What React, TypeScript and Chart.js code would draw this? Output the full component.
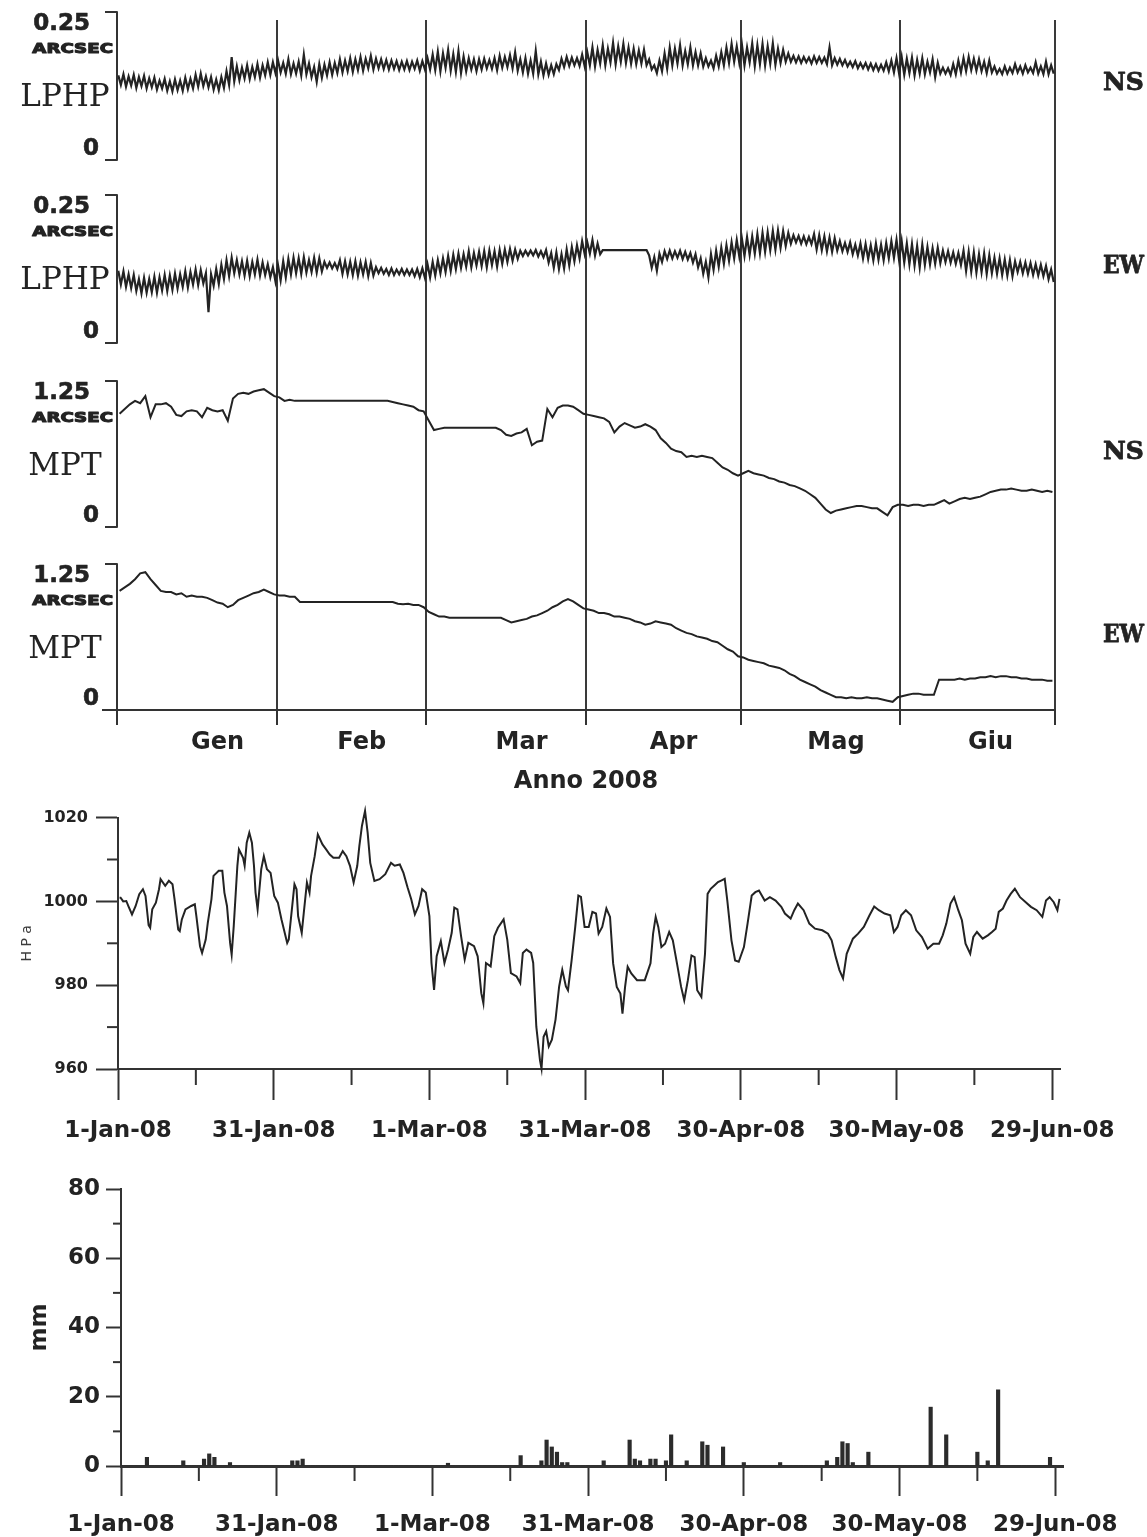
import React, { useEffect, useRef } from 'react';
import { Chart, registerables } from 'chart.js';

Chart.register(...registerables);

const SANS = '"DejaVu Sans", "Liberation Sans", sans-serif';
const SERIF = '"DejaVu Serif", "Liberation Serif", serif';
const INK = '#232323';
const RULE = '#333333';

// ---------------- Top figure: tilt traces (day 0 = 1 Jan 2008) ----------------
const monthStarts = [0, 31, 60, 91, 121, 152, 182];
const monthNames = ['Gen', 'Feb', 'Mar', 'Apr', 'Mag', 'Giu'];
const monthLabelDays = [19.5, 47.5, 78.5, 108, 139.5, 169.5];
const yearTitle = 'Anno 2008';

// LPHP NS, milliarcsec: daily high / low of the diurnal swing
const lphpNsHi = [
  143, 145, 141, 144, 140, 142, 138, 139, 134, 137,
  133, 136, 134, 139, 137, 144, 146, 141, 140, 136,
  140, 150, 174, 158, 156, 160, 157, 162, 160, 165,
  165, 168, 164, 170, 163, 166, 178, 163, 157, 162,
  161, 165, 164, 170, 168, 172, 170, 174, 171, 176,
  171, 170, 169, 168, 167, 166, 167, 166, 168, 167,
  172, 178, 183, 180, 186, 179, 184, 175, 172, 170,
  170, 171, 169, 172, 176, 174, 177, 182, 170, 172,
  168, 184, 166, 163, 160, 162, 171, 174, 173, 172,
  178, 182, 190, 186, 194, 188, 198, 192, 196, 190,
  188, 185, 186, 170, 160, 168, 180, 190, 188, 194,
  184, 190, 182, 180, 172, 168, 176, 182, 190, 196,
  192, 195, 190, 197, 194, 196, 192, 197, 188, 186,
  180, 176, 175, 174, 173, 175, 174, 173, 190, 172,
  171, 169, 166, 167, 164, 164, 163, 162, 161, 165,
  168, 172, 174, 171, 173, 169, 172, 166, 170, 164,
  156, 155, 162, 168, 172, 174, 171, 170, 166, 168,
  158, 154, 158, 156, 162, 158, 160, 156, 165, 158,
  166, 160,
];
const lphpNsLo = [
  127, 124, 126, 122, 125, 121, 123, 119, 121, 117,
  116, 118, 117, 120, 121, 124, 125, 123, 119, 118,
  122, 127, 133, 135, 138, 137, 140, 139, 143, 144,
  147, 148, 146, 145, 146, 143, 145, 140, 132, 139,
  143, 144, 147, 148, 150, 149, 152, 151, 155, 153,
  155, 154, 153, 154, 152, 153, 152, 154, 151, 153,
  153, 152, 150, 156, 151, 149, 147, 150, 153, 150,
  153, 155, 154, 152, 156, 157, 155, 151, 148, 146,
  146, 145, 143, 144, 145, 152, 157, 159, 160, 159,
  158, 160, 158, 163, 160, 165, 162, 166, 164, 163,
  162, 163, 160, 153, 147, 150, 154, 160, 163, 160,
  162, 160, 160, 158, 158, 155, 158, 160, 164, 166,
  164, 160, 165, 159, 162, 160, 163, 161, 164, 166,
  166, 165, 164, 165, 163, 164, 164, 162, 160, 161,
  160, 158, 157, 155, 155, 153, 152, 151, 151, 150,
  148, 146, 144, 147, 143, 146, 145, 148, 140, 146,
  146, 144, 145, 148, 150, 152, 151, 150, 147, 148,
  146, 145, 146, 147, 148, 146, 148, 147, 146, 145,
  145, 146,
];
// LPHP EW, milliarcsec
const lphpEwHi = [
  122, 121, 116, 115, 108, 110, 108, 112, 111, 115,
  114, 117, 116, 121, 120, 124, 123, 118, 116, 125,
  132, 140, 144, 140, 138, 139, 137, 141, 136, 133,
  128, 131, 138, 142, 144, 143, 145, 140, 144, 143,
  137, 136, 135, 140, 138, 137, 138, 136, 137, 135,
  128, 127, 125, 126, 124, 125, 124, 124, 125, 126,
  133, 137, 140, 143, 147, 149, 151, 150, 155, 152,
  154, 155, 156, 155, 157, 158, 159, 158, 156, 156,
  156, 157, 155, 157, 152, 153, 150, 158, 162, 165,
  172, 170, 174, 168, 157, 157, 157, 157, 157, 157,
  157, 157, 157, 148, 145, 151, 155, 156, 155, 156,
  154, 152, 150, 143, 137, 150, 156, 161, 165, 170,
  174, 176, 179, 180, 184, 186, 187, 189, 190, 189,
  186, 182, 181, 180, 179, 184, 182, 180, 178, 177,
  172, 169, 170, 166, 168, 167, 165, 168, 166, 169,
  172, 174, 172, 168, 167, 164, 166, 162, 160, 161,
  156, 155, 153, 152, 156, 154, 153, 150, 151, 148,
  144, 143, 141, 140, 138, 137, 136, 135, 133, 132,
  130, 124,
];
const lphpEwLo = [
  99, 95, 93, 88, 84, 85, 86, 85, 89, 88,
  90, 92, 95, 94, 99, 98, 101, 52, 97, 100,
  108, 113, 118, 116, 114, 113, 116, 114, 115, 111,
  104, 106, 111, 116, 118, 117, 119, 120, 119, 121,
  127, 126, 125, 117, 116, 115, 114, 116, 113, 114,
  118, 117, 115, 115, 116, 115, 115, 113, 111, 110,
  111, 114, 118, 120, 122, 125, 127, 129, 128, 131,
  130, 128, 132, 129, 134, 137, 139, 142, 147, 148,
  148, 146, 145, 136, 127, 125, 126, 131, 138, 143,
  150, 151, 148, 150, 157, 157, 157, 157, 157, 157,
  157, 157, 157, 127, 122, 137, 142, 143, 144, 142,
  141, 136, 128, 117, 111, 124, 129, 134, 139, 143,
  146, 147, 149, 151, 152, 154, 157, 158, 161, 164,
  168, 170, 168, 167, 167, 158, 157, 155, 154, 156,
  155, 154, 150, 148, 143, 142, 140, 141, 140, 143,
  144, 140, 136, 133, 131, 128, 132, 133, 134, 135,
  137, 136, 134, 132, 122, 121, 119, 120, 117, 118,
  117, 115, 114, 113, 120, 118, 117, 115, 114, 113,
  108, 103,
];
// MPT, arcsec, one value per day
const mptNs = [
  0.97, 1.01, 1.05, 1.08, 1.06, 1.12, 0.94, 1.05, 1.05, 1.06,
  1.03, 0.96, 0.95, 0.99, 1.0, 0.99, 0.94, 1.02, 1.0, 0.99,
  1.0, 0.91, 1.1, 1.14, 1.15, 1.14, 1.16, 1.17, 1.18, 1.15,
  1.12, 1.11, 1.08, 1.09, 1.08, 1.08, 1.08, 1.08, 1.08, 1.08,
  1.08, 1.08, 1.08, 1.08, 1.08, 1.08, 1.08, 1.08, 1.08, 1.08,
  1.08, 1.08, 1.08, 1.07, 1.06, 1.05, 1.04, 1.03, 1.0, 0.99,
  0.91, 0.83, 0.84, 0.85, 0.85, 0.85, 0.85, 0.85, 0.85, 0.85,
  0.85, 0.85, 0.85, 0.85, 0.83, 0.79, 0.78, 0.8, 0.81, 0.84,
  0.7, 0.73, 0.74, 1.01, 0.94, 1.02, 1.04, 1.04, 1.03, 1.0,
  0.97, 0.96, 0.95, 0.94, 0.93, 0.9, 0.81, 0.86, 0.89, 0.87,
  0.85, 0.86, 0.88, 0.86, 0.83, 0.76, 0.72, 0.67, 0.65, 0.64,
  0.6, 0.61, 0.6, 0.61, 0.6, 0.59, 0.55, 0.51, 0.49, 0.46,
  0.44, 0.46, 0.48, 0.46, 0.45, 0.44, 0.42, 0.41, 0.39, 0.38,
  0.36, 0.35, 0.33, 0.31, 0.28, 0.25, 0.2, 0.15, 0.12, 0.14,
  0.15, 0.16, 0.17, 0.18, 0.18, 0.17, 0.16, 0.16, 0.13, 0.1,
  0.17, 0.19, 0.19, 0.18, 0.19, 0.19, 0.18, 0.19, 0.19, 0.21,
  0.23, 0.2, 0.22, 0.24, 0.25, 0.24, 0.25, 0.26, 0.28, 0.3,
  0.31, 0.32, 0.32, 0.33, 0.32, 0.31, 0.31, 0.32, 0.31, 0.3,
  0.31, 0.3,
];
const mptEw = [
  1.02, 1.05, 1.08, 1.12, 1.17, 1.18, 1.12, 1.07, 1.02, 1.01,
  1.01, 0.99, 1.0, 0.97, 0.98, 0.97, 0.97, 0.96, 0.94, 0.92,
  0.91, 0.88, 0.9, 0.94, 0.96, 0.98, 1.0, 1.01, 1.03, 1.01,
  0.99, 0.98, 0.98, 0.97, 0.97, 0.925, 0.925, 0.925, 0.925, 0.925,
  0.925, 0.925, 0.925, 0.925, 0.925, 0.925, 0.925, 0.925, 0.925, 0.925,
  0.925, 0.925, 0.925, 0.925, 0.91, 0.905, 0.91, 0.9, 0.9, 0.88,
  0.84, 0.82, 0.8, 0.8, 0.79, 0.79, 0.79, 0.79, 0.79, 0.79,
  0.79, 0.79, 0.79, 0.79, 0.79, 0.77, 0.75, 0.76, 0.77, 0.78,
  0.8, 0.81, 0.83, 0.85, 0.88, 0.9, 0.93, 0.95, 0.93, 0.9,
  0.87, 0.86, 0.85, 0.83, 0.83, 0.82, 0.8, 0.8, 0.79, 0.78,
  0.76, 0.75, 0.73, 0.74, 0.76, 0.75, 0.74, 0.73, 0.7, 0.68,
  0.66, 0.65, 0.63, 0.62, 0.61, 0.59, 0.58, 0.55, 0.52, 0.5,
  0.46, 0.45, 0.43, 0.42, 0.41, 0.4, 0.38, 0.37, 0.36, 0.34,
  0.31, 0.29, 0.26, 0.24, 0.22, 0.2, 0.17, 0.15, 0.13, 0.11,
  0.11, 0.1, 0.11, 0.1, 0.1, 0.11, 0.1, 0.1, 0.09, 0.08,
  0.07, 0.11, 0.12, 0.13, 0.14, 0.14, 0.13, 0.13, 0.13, 0.26,
  0.26, 0.26, 0.26, 0.27, 0.26, 0.27, 0.27, 0.28, 0.28, 0.29,
  0.28, 0.29, 0.29, 0.28, 0.28, 0.27, 0.27, 0.26, 0.26, 0.26,
  0.25, 0.25,
];

// ---------------- Pressure (hPa) ----------------
const pressDays = [
  0.3, 0.5, 1.0, 1.6, 2.0, 2.7, 3.4, 4.1, 4.8, 5.3, 5.9, 6.2, 6.6, 7.3, 7.9, 8.2, 9.1, 9.8, 10.5, 10.9,
  11.6, 11.9, 12.3, 13.0, 14.1, 14.8, 15.1, 15.8, 16.2, 16.9, 17.3, 18.0, 18.4, 19.4, 20.1, 20.5, 21.0, 21.6, 21.9, 22.3,
  23.0, 23.3, 24.1, 24.4, 24.8, 25.3, 25.8, 26.2, 26.5, 26.9, 27.6, 28.1, 28.7, 29.4, 30.1, 30.8, 31.5, 32.6, 32.9, 33.7,
  34.0, 34.4, 34.7, 35.4, 35.8, 36.4, 36.9, 37.2, 37.9, 38.5, 39.4, 40.1, 40.8, 41.5, 42.6, 43.3, 44.0, 44.7, 45.4, 46.1,
  46.5, 47.0, 47.6, 48.1, 48.6, 49.4, 50.4, 51.5, 52.6, 53.3, 54.3, 55.0, 55.8, 56.5, 57.2, 57.9, 58.6, 59.3, 60.0, 60.4,
  60.9, 61.4, 62.2, 62.9, 63.6, 64.3, 64.8, 65.4, 66.1, 66.8, 67.5, 68.6, 69.3, 70.0, 70.4, 70.9, 71.8, 72.5, 73.2, 74.3,
  75.0, 75.7, 76.8, 77.5, 78.0, 78.7, 79.6, 80.0, 80.6, 81.3, 81.6, 82.0, 82.5, 83.0, 83.6, 84.3, 85.0, 85.6, 86.3, 86.7,
  87.4, 88.1, 88.7, 89.2, 89.9, 90.7, 91.4, 92.1, 92.6, 93.3, 94.1, 94.8, 95.4, 96.1, 96.8, 97.2, 97.7, 98.2, 98.9, 100.0,
  101.5, 102.6, 103.1, 103.6, 104.1, 104.7, 105.4, 106.2, 106.9, 107.7, 108.5, 109.1, 109.8, 110.5, 111.1, 111.6, 112.4, 113.1, 113.6, 114.2,
  114.9, 115.6, 116.3, 116.9, 117.4, 118.2, 118.9, 119.6, 120.6, 121.3, 122.1, 122.8, 123.5, 124.6, 125.6, 126.7, 127.8, 128.5, 129.6, 130.3,
  131.0, 132.1, 133.2, 134.3, 135.7, 136.8, 137.5, 138.3, 139.0, 139.7, 140.4, 141.6, 142.6, 143.7, 144.8, 145.7, 146.6, 147.7, 148.8, 149.5,
  150.2, 150.9, 151.8, 152.8, 153.8, 154.9, 156.0, 157.1, 158.2, 158.9, 159.6, 160.4, 161.1, 161.9, 162.6, 163.3, 164.2, 164.8, 165.5, 166.6,
  167.6, 168.4, 169.1, 169.7, 170.5, 171.2, 172.0, 172.8, 173.8, 174.9, 175.9, 177.0, 178.1, 178.8, 179.5, 180.3, 181.0, 181.4,
];
const pressHpa = [
  1000.9, 1000.9, 1000.0, 1000.1, 998.9, 996.9, 998.9, 1001.7, 1002.9, 1001.3, 994.3, 993.7, 998.1, 999.7, 1002.9, 1005.3, 1003.7, 1004.9, 1004.1, 1000.5,
  993.3, 992.9, 995.7, 998.1, 998.9, 999.3, 996.5, 989.3, 987.7, 990.9, 994.9, 1000.5, 1006.1, 1007.3, 1007.3, 1002.1, 998.9, 990.1, 987.3, 994.1,
  1008.5, 1012.4, 1010.4, 1008.5, 1014.0, 1016.4, 1014.0, 1008.5, 1002.1, 998.1, 1007.7, 1010.8, 1007.7, 1006.8, 1001.3, 999.7, 995.7, 990.1, 990.9, 1000.5,
  1004.1, 1002.9, 996.5, 992.5, 997.3, 1004.5, 1002.1, 1006.1, 1010.8, 1016.0, 1013.6, 1012.4, 1011.2, 1010.4, 1010.4, 1012.0, 1010.8, 1008.5, 1004.5, 1008.5,
  1013.2, 1018.0, 1021.6, 1016.4, 1009.2, 1004.9, 1005.3, 1006.5, 1009.2, 1008.5, 1008.8, 1006.8, 1003.3, 1000.5, 996.9, 998.9, 1002.9, 1002.1, 996.5, 985.3,
  978.9, 986.9, 990.5, 985.3, 988.5, 992.5, 998.5, 998.1, 991.7, 986.1, 990.1, 989.3, 986.9, 978.1, 975.7, 985.3, 984.5, 991.7, 993.7, 995.7,
  990.9, 982.9, 982.1, 980.5, 987.7, 988.5, 987.7, 985.3, 970.1, 962.1, 960.1, 967.7, 969.0, 965.4, 967.0, 971.8, 979.7, 983.7, 979.7, 978.8,
  985.9, 993.9, 1001.4, 1001.1, 993.9, 993.9, 997.5, 997.1, 992.3, 993.9, 998.3, 996.3, 985.2, 979.6, 978.0, 973.2, 979.6, 984.4, 982.8, 981.2,
  981.2, 985.2, 992.3, 996.3, 993.9, 989.1, 989.9, 992.7, 990.7, 985.2, 979.6, 976.4, 981.2, 987.1, 986.7, 978.8, 977.2, 987.5, 1001.8, 1003.0,
  1003.8, 1004.6, 1005.0, 1005.4, 1000.2, 990.7, 985.9, 985.6, 989.1, 994.7, 1001.4, 1002.2, 1002.6, 1000.2, 1001.0, 1000.2, 998.7, 997.1, 995.9, 997.9,
  999.5, 997.9, 994.7, 993.5, 993.1, 992.3, 990.7, 986.7, 983.6, 981.6, 987.5, 991.1, 992.3, 993.9, 996.7, 998.8, 997.9, 997.1, 996.7, 992.7,
  993.9, 996.7, 997.9, 996.7, 993.1, 991.5, 988.7, 989.9, 989.9, 991.9, 994.7, 999.5, 1001.0, 997.9, 995.5, 989.9, 987.5, 991.5, 992.7, 991.1,
  991.9, 992.7, 993.5, 997.5, 998.3, 1000.2, 1001.8, 1003.0, 1001.0, 999.8, 998.7, 997.9, 996.3, 1000.2, 1001.0, 999.8, 997.9, 1000.6,
];
const dateTickDays = [0, 15, 30, 45, 60, 75, 90, 105, 120, 135, 150, 165, 180];
const dateTickLabels = ['1-Jan-08', '31-Jan-08', '1-Mar-08', '31-Mar-08', '30-Apr-08', '30-May-08', '29-Jun-08'];
const pressTicks = [960, 970, 980, 990, 1000, 1010, 1020];

// ---------------- Rain (mm per day) ----------------
const rainMm = [
  0, 0, 0, 0, 0, 2.5, 0, 0, 0, 0,
  0, 0, 1.5, 0, 0, 0, 2, 3.5, 2.5, 0,
  0, 1, 0, 0, 0, 0, 0, 0, 0, 0,
  0, 0, 0, 1.5, 1.5, 2, 0, 0, 0, 0,
  0, 0, 0, 0, 0, 0, 0, 0, 0, 0,
  0, 0, 0, 0, 0, 0, 0, 0, 0, 0,
  0, 0, 0, 0.8, 0, 0, 0, 0, 0, 0,
  0, 0, 0, 0, 0, 0, 0, 3, 0, 0,
  0, 1.5, 7.5, 5.5, 4, 1, 1, 0, 0, 0,
  0, 0, 0, 1.5, 0, 0, 0, 0, 7.5, 2,
  1.5, 0, 2, 2, 0, 1.5, 9, 0, 0, 1.5,
  0, 0, 7, 6, 0, 0, 5.5, 0, 0, 0,
  1, 0, 0, 0, 0, 0, 0, 1, 0, 0,
  0, 0, 0, 0, 0, 0, 1.5, 0, 2.5, 7,
  6.5, 1, 0, 0, 4, 0, 0, 0, 0, 0,
  0, 0, 0, 0, 0, 0, 17, 0, 0, 9,
  0, 0, 0, 0, 0, 4, 0, 1.5, 0, 22,
  0, 0, 0, 0, 0, 0, 0, 0, 0, 2.5,
  0, 0,
];
const rainTicks = [0, 10, 20, 30, 40, 50, 60, 70, 80];

// ---------------- layout helpers ----------------
const TOP_AREA = { top: 20, bottom: 710 };
const panels = [
  { id: 'yLphpNs', name: 'LPHP', comp: 'NS', full: 0.25, fullLabel: '0.25', bracket: [12, 160] },
  { id: 'yLphpEw', name: 'LPHP', comp: 'EW', full: 0.25, fullLabel: '0.25', bracket: [195, 343] },
  { id: 'yMptNs', name: 'MPT', comp: 'NS', full: 1.25, fullLabel: '1.25', bracket: [381, 527] },
  { id: 'yMptEw', name: 'MPT', comp: 'EW', full: 1.25, fullLabel: '1.25', bracket: [564, 710] },
];
function panelRange(p: any) {
  const [t, b] = p.bracket;
  const per = p.full / (b - t);
  return { min: -(TOP_AREA.bottom - b) * per, max: p.full + (t - TOP_AREA.top) * per };
}
const pairs = (hi: number[], lo: number[]) =>
  hi.flatMap((h, d) => [{ x: d + 0.25, y: h / 1000 }, { x: d + 0.75, y: lo[d] / 1000 }]);
const daily = (v: number[]) => v.map((y, d) => ({ x: d + 0.5, y }));

const minorTicks = {
  id: 'minorTicks',
  afterDraw(chart: any, _a: any, opts: any) {
    const ctx = chart.ctx;
    ctx.save();
    ctx.strokeStyle = RULE;
    ctx.lineWidth = 2;
    (opts.items || []).forEach((it: any) => {
      const s = chart.scales[it.scale];
      it.values.forEach((v: number) => {
        const p = s.getPixelForValue(v);
        ctx.beginPath();
        if (s.isHorizontal()) {
          ctx.moveTo(p, s.top);
          ctx.lineTo(p, s.top + it.len);
        } else {
          ctx.moveTo(s.right, p);
          ctx.lineTo(s.right - it.len, p);
        }
        ctx.stroke();
      });
    });
    ctx.restore();
  },
};

function heavyText(ctx: any, text: string, x: number, y: number, w: number, maxW?: number) {
  if (maxW) {
    ctx.fillText(text, x, y, maxW);
  } else {
    ctx.fillText(text, x, y);
  }
  ctx.lineWidth = w;
  ctx.strokeStyle = ctx.fillStyle;
  if (maxW) {
    ctx.strokeText(text, x, y, maxW);
  } else {
    ctx.strokeText(text, x, y);
  }
}

const topDecor = {
  id: 'topDecor',
  afterDraw(chart: any) {
    const { ctx, chartArea } = chart;
    const L = chartArea.left;
    ctx.save();
    ctx.fillStyle = INK;
    ctx.lineJoin = 'round';
    panels.forEach((p, i) => {
      const s = chart.scales[p.id];
      const T = s.getPixelForValue(p.full);
      const B = s.getPixelForValue(0);
      ctx.strokeStyle = RULE;
      ctx.lineWidth = 2;
      ctx.beginPath();
      ctx.moveTo(L - 12, T);
      ctx.lineTo(L, T);
      ctx.lineTo(L, B);
      ctx.lineTo(i === panels.length - 1 ? L - 15 : L - 12, B);
      ctx.stroke();
      ctx.textBaseline = 'alphabetic';
      ctx.textAlign = 'right';
      ctx.font = `bold 23px ${SANS}`;
      heavyText(ctx, p.fullLabel, L - 27, T + 18, 0.6);
      heavyText(ctx, '0', L - 18, B - 5, 0.6);
      ctx.save();
      ctx.translate(L - 4, T + 41);
      ctx.scale(1.3, 1);
      ctx.font = `bold 14px ${SANS}`;
      heavyText(ctx, 'ARCSEC', 0, 0, 1.1);
      ctx.restore();
      ctx.textAlign = 'center';
      ctx.font = `31px ${SERIF}`;
      ctx.fillText(p.name, L - 52, T + 94);
      ctx.textAlign = 'left';
      ctx.font = `bold 25px ${SERIF}`;
      heavyText(ctx, p.comp, 1103, T + 78, 0.8, 41);
    });
    const xs = chart.scales.x;
    ctx.textAlign = 'center';
    ctx.font = `bold 24px ${SANS}`;
    monthNames.forEach((m, i) => ctx.fillText(m, xs.getPixelForValue(monthLabelDays[i]), 749));
    ctx.fillText(yearTitle, (chartArea.left + chartArea.right) / 2, 788);
    ctx.restore();
  },
};

function topConfig(): any {
  const scales: any = {
    x: {
      type: 'linear',
      min: 0,
      max: 182,
      afterBuildTicks: (s: any) => {
        s.ticks = monthStarts.map((v) => ({ value: v }));
      },
      ticks: { display: false },
      grid: {
        drawOnChartArea: true,
        lineWidth: 2,
        color: (c: any) => (c.tick && c.tick.value === 0 ? 'rgba(0,0,0,0)' : '#3a3a3a'),
        tickLength: 15,
        tickColor: RULE,
        tickWidth: 2,
      },
      border: { display: true, color: RULE, width: 2 },
    },
  };
  panels.forEach((p) => {
    const r = panelRange(p);
    scales[p.id] = { type: 'linear', display: false, min: r.min, max: r.max };
  });
  const line = (data: any[], id: string, w: number) => ({
    data,
    yAxisID: id,
    borderColor: INK,
    borderWidth: w,
    pointRadius: 0,
    tension: 0,
    fill: false,
  });
  return {
    type: 'line',
    data: {
      datasets: [
        line(pairs(lphpNsHi, lphpNsLo), 'yLphpNs', 2.2),
        line(pairs(lphpEwHi, lphpEwLo), 'yLphpEw', 2.2),
        line(daily(mptNs), 'yMptNs', 2),
        line(daily(mptEw), 'yMptEw', 2),
      ],
    },
    options: {
      responsive: false,
      animation: false,
      devicePixelRatio: 1,
      events: [],
      layout: { padding: { left: 117, right: 92, top: 20, bottom: 75 } },
      plugins: { legend: { display: false }, tooltip: { enabled: false } },
      scales,
    },
    plugins: [topDecor],
  };
}

const majorTickColor = (step: number) => (c: any) =>
  c.tick && Math.round(c.tick.value) % step === 0 ? RULE : 'rgba(0,0,0,0)';

function dateAxis(height: number, longTick: number, pad: number, borderW: number): any {
  return {
    type: 'linear',
    min: 0,
    max: 181.5,
    offset: false,
    afterBuildTicks: (s: any) => {
      s.ticks = dateTickDays.map((v) => ({ value: v }));
    },
    afterFit: (s: any) => {
      s.height = height;
    },
    ticks: {
      autoSkip: false,
      maxRotation: 0,
      minRotation: 0,
      padding: pad,
      color: INK,
      font: { family: SANS, size: 23, weight: 'bold' },
      callback: (v: number) => (v % 30 === 0 ? dateTickLabels[v / 30] : ''),
    },
    grid: {
      drawOnChartArea: false,
      offset: false,
      tickLength: longTick,
      tickWidth: 2,
      tickColor: majorTickColor(30),
    },
    border: { color: RULE, width: borderW },
  };
}

function pressConfig(): any {
  return {
    type: 'line',
    data: {
      datasets: [
        {
          data: pressDays.map((x, i) => ({ x, y: pressHpa[i] })),
          borderColor: INK,
          borderWidth: 2,
          pointRadius: 0,
          tension: 0,
          clip: false,
        },
      ],
    },
    options: {
      responsive: false,
      animation: false,
      devicePixelRatio: 1,
      events: [],
      layout: { padding: { left: 0, right: 87, top: 17, bottom: 0 } },
      plugins: {
        legend: { display: false },
        tooltip: { enabled: false },
        minorTicks: {
          items: [
            { scale: 'x', values: dateTickDays.filter((v) => v % 30 !== 0), len: 16 },
            { scale: 'y', values: pressTicks.filter((v) => v % 20 !== 0), len: 11 },
          ],
        },
      },
      scales: {
        x: dateAxis(81, 31, 17, 2),
        y: {
          type: 'linear',
          min: 960,
          max: 1020,
          afterBuildTicks: (s: any) => {
            s.ticks = pressTicks.map((v) => ({ value: v }));
          },
          afterFit: (s: any) => {
            s.width = 118;
          },
          ticks: {
            padding: 8,
            color: INK,
            font: { family: SANS, size: 16, weight: 'bold' },
            callback: (v: number) => (v % 20 === 0 ? String(v) : ''),
          },
          grid: { drawOnChartArea: false, tickLength: 22, tickWidth: 2, tickColor: majorTickColor(20) },
          border: { color: RULE, width: 2 },
          title: {
            display: true,
            text: 'H P a',
            color: '#3c3c3c',
            font: { family: SANS, size: 14 },
            padding: { top: 19, bottom: 0 },
          },
        },
      },
    },
    plugins: [minorTicks],
  };
}

function rainConfig(): any {
  return {
    type: 'bar',
    data: {
      datasets: [
        {
          data: rainMm.map((y, d) => ({ x: d, y })),
          backgroundColor: '#2b2b2b',
          borderWidth: 0,
          barThickness: 3.5,
        },
      ],
    },
    options: {
      responsive: false,
      animation: false,
      devicePixelRatio: 1,
      events: [],
      layout: { padding: { left: 0, right: 84, top: 39, bottom: 0 } },
      plugins: {
        legend: { display: false },
        tooltip: { enabled: false },
        minorTicks: {
          items: [
            { scale: 'x', values: dateTickDays.filter((v) => v % 30 !== 0), len: 15 },
            { scale: 'y', values: rainTicks.filter((v) => v % 20 !== 0), len: 8 },
          ],
        },
      },
      scales: {
        x: dateAxis(71, 30, 15, 3),
        y: {
          type: 'linear',
          min: 0,
          max: 80,
          afterBuildTicks: (s: any) => {
            s.ticks = rainTicks.map((v) => ({ value: v }));
          },
          afterFit: (s: any) => {
            s.width = 121;
          },
          ticks: {
            padding: 6,
            color: INK,
            font: { family: SANS, size: 23, weight: 'bold' },
            callback: (v: number) => (v % 20 === 0 ? String(v) : ''),
          },
          grid: { drawOnChartArea: false, tickLength: 15, tickWidth: 2, tickColor: majorTickColor(20) },
          border: { color: RULE, width: 2 },
          title: {
            display: true,
            text: 'mm',
            color: INK,
            font: { family: SANS, size: 23, weight: 'bold' },
            padding: { top: 26, bottom: 0 },
          },
        },
      },
    },
    plugins: [minorTicks],
  };
}

export default function App() {
  const topRef = useRef<HTMLCanvasElement>(null);
  const pressRef = useRef<HTMLCanvasElement>(null);
  const rainRef = useRef<HTMLCanvasElement>(null);

  useEffect(() => {
    const charts = [
      new Chart(topRef.current as HTMLCanvasElement, topConfig()),
      new Chart(pressRef.current as HTMLCanvasElement, pressConfig()),
      new Chart(rainRef.current as HTMLCanvasElement, rainConfig()),
    ];
    return () => charts.forEach((c) => c.destroy());
  }, []);

  return (
    <div style={{ position: 'absolute', left: 0, top: 0, width: 1147, height: 1537, background: '#fff' }}>
      <canvas ref={topRef} width={1147} height={800} style={{ position: 'absolute', left: 0, top: 0 }} />
      <canvas ref={pressRef} width={1147} height={350} style={{ position: 'absolute', left: 0, top: 800 }} />
      <canvas ref={rainRef} width={1147} height={387} style={{ position: 'absolute', left: 0, top: 1150 }} />
    </div>
  );
}
